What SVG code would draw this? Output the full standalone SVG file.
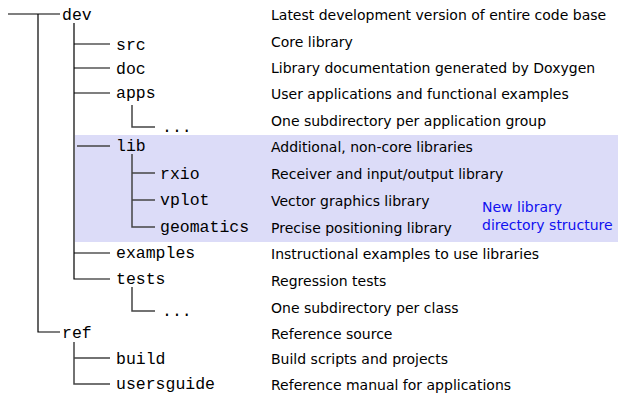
<svg xmlns="http://www.w3.org/2000/svg" width="618" height="398" viewBox="0 0 618 398">
<style>
.m{font-family:"Liberation Mono","Courier New",monospace;font-size:16.5px;fill:#000}
.d{font-family:"DejaVu Sans",sans-serif;font-size:14px;fill:#000}
.b{font-family:"DejaVu Sans",sans-serif;font-size:14px;fill:#1010f0}
.k{stroke:#000;stroke-width:1.2;fill:none}
.g{stroke:#444;stroke-width:1.5;fill:none}
</style>
<rect x="75" y="135" width="543" height="107" fill="#dcdcf8"/>
<g id="connectors">
<path class="k" d="M8 14H60M38 14V332H60"/>
<path class="k" d="M74 23V279H110M74 44H110M74 68H110M74 93H110M74 253H110"/>
<path class="g" d="M77 146H110"/>
<path class="g" d="M132 105V127H155M132 287V311H155"/>
<path class="g" d="M132 154V227H155M132 173H155M132 200H155"/>
<path class="g" d="M74 342V384H110M74 358H110"/>
</g>
<g id="dev"><text class="m" x="62" y="20">dev</text><text class="d" x="271" y="20">Latest development version of entire code base</text></g>
<g id="src"><text class="m" x="116" y="50">src</text><text class="d" x="271" y="47">Core library</text></g>
<g id="doc"><text class="m" x="116" y="74">doc</text><text class="d" x="271" y="73">Library documentation generated by Doxygen</text></g>
<g id="apps"><text class="m" x="116" y="98">apps</text><text class="d" x="271" y="99">User applications and functional examples</text></g>
<g id="apps-sub"><text class="m" x="162" y="132">...</text><text class="d" x="271" y="126">One subdirectory per application group</text></g>
<g id="lib"><text class="m" x="116" y="151">lib</text><text class="d" x="271" y="152">Additional, non-core libraries</text></g>
<g id="rxio"><text class="m" x="160" y="179">rxio</text><text class="d" x="271" y="179">Receiver and input/output library</text></g>
<g id="vplot"><text class="m" x="160" y="205">vplot</text><text class="d" x="271" y="206">Vector graphics library</text></g>
<g id="geomatics"><text class="m" x="160" y="232">geomatics</text><text class="d" x="271" y="233">Precise positioning library</text></g>
<g id="note"><text class="b" x="482" y="212">New library</text><text class="b" x="482" y="230">directory structure</text></g>
<g id="examples"><text class="m" x="116" y="258">examples</text><text class="d" x="271" y="259">Instructional examples to use libraries</text></g>
<g id="tests"><text class="m" x="116" y="284">tests</text><text class="d" x="271" y="286">Regression tests</text></g>
<g id="tests-sub"><text class="m" x="162" y="316">...</text><text class="d" x="271" y="313">One subdirectory per class</text></g>
<g id="ref"><text class="m" x="62" y="338">ref</text><text class="d" x="271" y="339">Reference source</text></g>
<g id="build"><text class="m" x="116" y="364">build</text><text class="d" x="271" y="364">Build scripts and projects</text></g>
<g id="usersguide"><text class="m" x="116" y="389">usersguide</text><text class="d" x="271" y="390">Reference manual for applications</text></g>
</svg>
